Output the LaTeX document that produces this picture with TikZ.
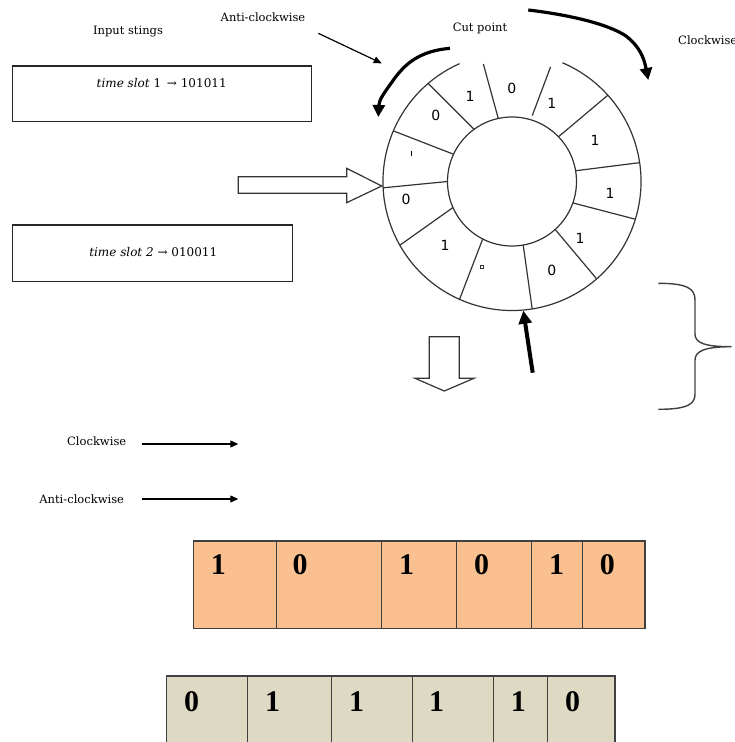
\documentclass[tikz,border=0pt]{standalone}
\usepackage{fontspec}
\setmainfont{DejaVu Serif}
\newfontfamily\ringfont{DejaVu Sans}
\newfontfamily\bitfont{Liberation Serif}
\usetikzlibrary{arrows.meta}
\definecolor{peach}{HTML}{FAC090}
\definecolor{boxtan}{HTML}{DDD9C3}
\begin{document}
\begin{tikzpicture}[x=1pt,y=-1pt,
  lbl/.style={font=\fontsize{11.5}{13}\selectfont, inner sep=0pt},
  slottext/.style={font=\fontsize{12}{14}\selectfont, inner sep=0pt},
  ringd/.style={font=\ringfont\fontsize{14}{16}\selectfont, inner sep=0pt},
  bitd/.style={font=\bitfont\bfseries\fontsize{30}{33}\selectfont, inner sep=0pt},
  slotbox/.style={draw=black!85, line width=1.5pt},
  ringline/.style={draw=black!80, line width=1.2pt},
  hollow/.style={draw=black!80, line width=1.2pt, fill=white},
  thinarrow/.style={line width=1.2pt, -{Triangle[length=8pt,width=7pt]}},
  bigarrow/.style={line width=3.2pt, -{Triangle[length=12pt,width=12pt]}},
  cellline/.style={draw=black!75, line width=1pt}]
\useasboundingbox (0,0) rectangle (735,742);
\clip (0,0) rectangle (735,742);

% top labels
\node[lbl] (inp) at (128,32) {Input stings};
\node[lbl] (acw) at (263,17) {Anti-clockwise};
\node[lbl] (cut) at (480,28) {Cut point};
\node[lbl, anchor=west] (cw) at (678,40) {Clockwise};

% time slot boxes
\node[slotbox, minimum width=299pt, minimum height=55.7pt] (ts1) at (162.2,93.85) {};
\node[slottext] (ts1t) at (161.7,82.7) {\itshape time slot\upshape\ 1 \,→ 101011};
\node[slotbox, minimum width=280pt, minimum height=56.7pt] (ts2) at (152.7,253.35) {};
\node[slottext] (ts2t) at (153.3,251.7) {\itshape time slot 2\upshape\ → 010011};

% ring
\coordinate (c) at (512,181.5);
\draw[ringline] (c) circle[radius=64.5];
\draw[ringline] ({512+129*cos(114)},{181.5-129*sin(114)}) arc[start angle=-114, end angle=-427, radius=129];
\foreach \ai/\ao/\ri/\ro in {126/130.5/64.5/129, 102.3/103.7/64.5/121, 72.9/71.4/69/121,
  43.9/42/64.5/129, 9.6/8.4/64.5/129, 340.6/343/64.5/129, 312/311/64.5/129,
  280/279/64.5/129, 243/246/64.5/129, 203.8/209.6/64.5/129, 180/182.8/64.5/129, 155/156.9/64.5/129}{
  \draw[ringline] ({512+\ri*cos(\ai)},{181.5-\ri*sin(\ai)}) -- ({512+\ro*cos(\ao)},{181.5-\ro*sin(\ao)});
}
\node[ringd] (r1) at (435.7,115) {0};
\node[ringd] (r2) at (470,96) {1};
\node[ringd] (r3) at (511.7,88.3) {0};
\node[ringd] (r4) at (551.7,103.3) {1};
\node[ringd] (r5) at (595,140) {1};
\node[ringd] (r6) at (610,193.3) {1};
\node[ringd] (r7) at (580,238.3) {1};
\node[ringd] (r8) at (551.7,270) {0};
\node[draw=black!80, line width=0.8pt, minimum size=3.5pt, inner sep=0pt] (r9) at (481.7,266.7) {};
\node[ringd] (r10) at (445,245) {1};
\node[ringd] (r11) at (406,199.3) {0};
\draw[line width=1.5pt] (411.7,151.3) -- (411.7,155.5);

% hollow arrows
\draw[hollow] (238.3,176.7) -- (346.7,176.7) -- (346.7,168.3) -- (381.7,186) -- (346.7,202.7) -- (346.7,193.3) -- (238.3,193.3) -- cycle;
\draw[hollow] (429.3,336.7) -- (459.3,336.7) -- (459.3,378.3) -- (474,378.3) -- (444.3,391) -- (415,378.3) -- (429.3,378.3) -- cycle;

% arrows
\coordinate (acs) at (318.3,33.3);
\coordinate (ace) at (381.7,63.3);
\draw[thinarrow] (acs) -- (ace);
\coordinate (cps) at (532.7,372.7);
\coordinate (cpe) at (523.3,310.7);
\draw[line width=4pt, -{Triangle[length=13pt,width=13pt]}] (cps) -- (cpe);
\coordinate (a1) at (450,48.3);
\coordinate (a2) at (378.3,117);
\draw[bigarrow] (a1) .. controls (420,51) and (405,63) .. (392,82) .. controls (384,93) and (379,100) .. (a2);
\coordinate (b1) at (528.3,10);
\coordinate (b2) at (648.3,80);
\draw[bigarrow] (b1) .. controls (570,15) and (608,24) .. (626,36) .. controls (640,47) and (644,58) .. (b2);

% brace
\draw[draw=black!75, line width=1.4pt] (658.3,283.3) .. controls (688,283.3) and (695,289) .. (695,300) -- (695,334)
  .. controls (695,343) and (705,346.7) .. (731.7,346.7)
  .. controls (705,346.7) and (695,351) .. (695,360) -- (695,394)
  .. controls (695,404) and (688,409.3) .. (658.3,409.3);

% legend
\node[lbl] (lcw) at (96.7,441.7) {Clockwise};
\node[lbl] (lacw) at (81.7,499.3) {Anti-clockwise};
\coordinate (l1s) at (141.7,444); \coordinate (l1e) at (238.3,444);
\coordinate (l2s) at (141.7,499); \coordinate (l2e) at (238.3,499);
\draw[thinarrow] (l1s) -- (l1e);
\draw[thinarrow] (l2s) -- (l2e);

% bit boxes
\draw[fill=peach, draw=black!75, line width=1.1pt] (193.3,541) rectangle (645,628.3);
\foreach \x in {276,381,456.7,531.7,582.7}{\draw[cellline] (\x,541) -- (\x,628.3);}
\node[bitd] (o1) at (218.3,565) {1};
\node[bitd] (o2) at (300,565) {0};
\node[bitd] (o3) at (406.7,565) {1};
\node[bitd] (o4) at (481.7,565) {0};
\node[bitd] (o5) at (556.7,565) {1};
\node[bitd] (o6) at (607.3,565) {0};

\draw[fill=boxtan, draw=black!75, line width=1.1pt] (166.7,676) rectangle (615,770);
\foreach \x in {247.3,331.7,412.3,493.3,547.3}{\draw[cellline] (\x,676) -- (\x,770);}
\node[bitd] (t1) at (191.7,701.7) {0};
\node[bitd] (t2) at (272.7,701.7) {1};
\node[bitd] (t3) at (356.7,701.7) {1};
\node[bitd] (t4) at (436.7,701.7) {1};
\node[bitd] (t5) at (518.3,701.7) {1};
\node[bitd] (t6) at (572.7,701.7) {0};
\end{tikzpicture}
\end{document}
